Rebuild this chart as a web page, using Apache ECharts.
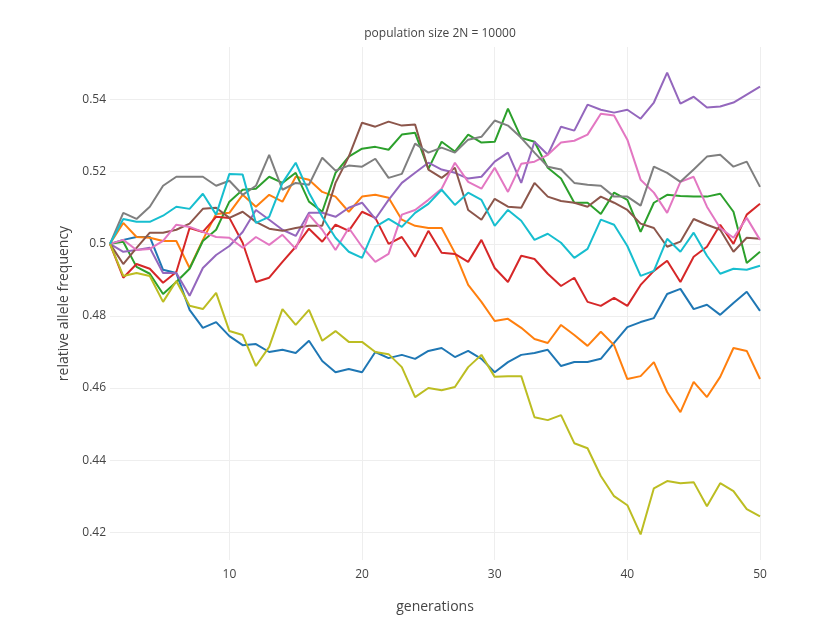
<!DOCTYPE html>
<html>
<head>
<meta charset="utf-8">
<script src="https://cdn.jsdelivr.net/npm/echarts@6/dist/echarts.min.js"></script>
<style>
html,body{margin:0;padding:0;background:#fff;}
#chart{width:840px;height:630px;}
</style>
</head>
<body>
<div id="chart"></div>
<script>
var generations = [1,2,3,4,5,6,7,8,9,10,11,12,13,14,15,16,17,18,19,20,21,22,23,24,25,26,27,28,29,30,31,32,33,34,35,36,37,38,39,40,41,42,43,44,45,46,47,48,49,50];

var run0 = [0.5000,0.5011,0.5019,0.5019,0.4928,0.4919,0.4817,0.4767,0.4783,0.4744,0.4719,0.4722,0.4700,0.4706,0.4697,0.4731,0.4675,0.4644,0.4653,0.4644,0.4700,0.4683,0.4692,0.4681,0.4703,0.4711,0.4686,0.4703,0.4681,0.4644,0.4672,0.4692,0.4697,0.4706,0.4661,0.4672,0.4672,0.4681,0.4725,0.4769,0.4783,0.4794,0.4861,0.4875,0.4819,0.4831,0.4803,0.4836,0.4867,0.4814];
var run1 = [0.5000,0.5058,0.5019,0.5017,0.5008,0.5008,0.4933,0.5011,0.5083,0.5086,0.5136,0.5103,0.5136,0.5117,0.5186,0.5178,0.5144,0.5131,0.5089,0.5131,0.5136,0.5128,0.5067,0.5050,0.5044,0.5044,0.4975,0.4886,0.4839,0.4786,0.4792,0.4767,0.4736,0.4725,0.4775,0.4747,0.4717,0.4756,0.4719,0.4625,0.4633,0.4672,0.4589,0.4533,0.4617,0.4575,0.4631,0.4711,0.4703,0.4625];
var run2 = [0.5000,0.5006,0.4936,0.4917,0.4861,0.4894,0.4931,0.5008,0.5039,0.5117,0.5150,0.5153,0.5186,0.5169,0.5197,0.5117,0.5089,0.5197,0.5242,0.5264,0.5269,0.5261,0.5303,0.5308,0.5208,0.5283,0.5256,0.5303,0.5281,0.5283,0.5375,0.5294,0.5283,0.5211,0.5181,0.5114,0.5114,0.5083,0.5142,0.5122,0.5033,0.5114,0.5136,0.5133,0.5131,0.5131,0.5139,0.5089,0.4947,0.4978];
var run3 = [0.5000,0.4906,0.4944,0.4931,0.4892,0.4922,0.5044,0.5033,0.5075,0.5072,0.5003,0.4894,0.4906,0.4950,0.4992,0.5042,0.5006,0.5053,0.5036,0.5089,0.5072,0.5000,0.5019,0.4964,0.5036,0.4975,0.4972,0.4950,0.5011,0.4933,0.4894,0.4967,0.4958,0.4917,0.4883,0.4906,0.4839,0.4828,0.4850,0.4828,0.4886,0.4925,0.4953,0.4894,0.4964,0.4992,0.5053,0.5000,0.5081,0.5111];
var run4 = [0.5000,0.4978,0.4983,0.4989,0.4919,0.4919,0.4856,0.4933,0.4969,0.4994,0.5033,0.5094,0.5067,0.5039,0.5022,0.5086,0.5086,0.5075,0.5100,0.5114,0.5069,0.5122,0.5169,0.5197,0.5225,0.5206,0.5197,0.5181,0.5186,0.5228,0.5253,0.5169,0.5283,0.5247,0.5325,0.5314,0.5386,0.5372,0.5364,0.5372,0.5347,0.5392,0.5475,0.5389,0.5408,0.5378,0.5381,0.5392,0.5414,0.5436];
var run5 = [0.5000,0.4944,0.4989,0.5031,0.5031,0.5039,0.5056,0.5097,0.5100,0.5072,0.5089,0.5061,0.5042,0.5036,0.5044,0.5050,0.5050,0.5169,0.5242,0.5336,0.5325,0.5339,0.5328,0.5331,0.5206,0.5183,0.5211,0.5094,0.5067,0.5125,0.5103,0.5100,0.5169,0.5131,0.5119,0.5114,0.5103,0.5131,0.5114,0.5094,0.5056,0.5044,0.4992,0.5006,0.5069,0.5053,0.5039,0.4978,0.5017,0.5014];
var run6 = [0.5000,0.5011,0.4983,0.4986,0.5008,0.5053,0.5047,0.5033,0.5019,0.5017,0.4989,0.5019,0.4997,0.5025,0.4986,0.5081,0.5039,0.4983,0.5044,0.4992,0.4950,0.4972,0.5081,0.5094,0.5122,0.5153,0.5225,0.5172,0.5153,0.5211,0.5144,0.5222,0.5228,0.5247,0.5281,0.5286,0.5303,0.5361,0.5356,0.5289,0.5178,0.5142,0.5086,0.5172,0.5186,0.5103,0.5044,0.5017,0.5072,0.5011];
var run7 = [0.5000,0.5086,0.5069,0.5103,0.5161,0.5186,0.5186,0.5186,0.5161,0.5175,0.5136,0.5161,0.5247,0.5150,0.5169,0.5164,0.5239,0.5203,0.5217,0.5214,0.5236,0.5183,0.5194,0.5278,0.5253,0.5267,0.5253,0.5289,0.5297,0.5342,0.5328,0.5294,0.5253,0.5214,0.5206,0.5169,0.5164,0.5161,0.5131,0.5131,0.5106,0.5214,0.5197,0.5172,0.5206,0.5242,0.5247,0.5214,0.5228,0.5158];
var run8 = [0.5000,0.4911,0.4919,0.4911,0.4839,0.4897,0.4828,0.4819,0.4864,0.4758,0.4747,0.4661,0.4714,0.4819,0.4775,0.4817,0.4731,0.4758,0.4728,0.4728,0.4700,0.4694,0.4658,0.4575,0.4600,0.4594,0.4603,0.4658,0.4692,0.4631,0.4633,0.4633,0.4519,0.4511,0.4525,0.4447,0.4433,0.4356,0.4300,0.4275,0.4194,0.4322,0.4342,0.4336,0.4339,0.4272,0.4336,0.4314,0.4264,0.4244];
var run9 = [0.5000,0.5069,0.5061,0.5061,0.5078,0.5103,0.5097,0.5139,0.5081,0.5194,0.5192,0.5058,0.5075,0.5169,0.5225,0.5142,0.5075,0.5017,0.4978,0.4961,0.5047,0.5069,0.5047,0.5086,0.5111,0.5150,0.5108,0.5142,0.5122,0.5050,0.5094,0.5064,0.5011,0.5028,0.5003,0.4961,0.4986,0.5067,0.5053,0.4994,0.4911,0.4925,0.5014,0.4978,0.5031,0.4967,0.4917,0.4931,0.4928,0.4939];

var runs = [run0, run1, run2, run3, run4, run5, run6, run7, run8, run9];
var colors = ['#1f77b4','#ff7f0e','#2ca02c','#d62728','#9467bd','#8c564b','#e377c2','#7f7f7f','#bcbd22','#17becf'];

var chart = echarts.init(document.getElementById('chart'), null, {renderer: 'canvas'});
var font = '"Open Sans", "DejaVu Sans", sans-serif';

var series = runs.map(function (r, i) {
  return {
    name: 'trace ' + i,
    type: 'line',
    data: generations.map(function (g, j) { return [g, r[j]]; }),
    showSymbol: false,
    symbol: 'none',
    lineStyle: {width: 2, color: colors[i]},
    itemStyle: {color: colors[i]},
    animation: false,
    z: 2 + i
  };
});

chart.setOption({
  backgroundColor: '#fff',
  animation: false,
  title: {
    text: 'population size 2N = 10000',
    left: 435,
    top: 23,
    textAlign: 'center',
    textStyle: {fontFamily: font, fontSize: 12, fontWeight: 'normal', color: '#444'}
  },
  grid: {left: 110, right: 80, top: 47, bottom: 70, containLabel: false},
  xAxis: {
    type: 'value',
    min: 1,
    max: 50,
    splitNumber: 5,
    name: 'generations',
    nameLocation: 'middle',
    nameGap: 40,
    nameTextStyle: {fontFamily: font, fontSize: 14, color: '#444'},
    axisLine: {show: false},
    axisTick: {show: false},
    axisLabel: {fontFamily: font, fontSize: 12, color: '#444', margin: 9, showMinLabel: false},
    splitLine: {show: true, showMinLine: false, lineStyle: {color: '#eeeeee', width: 1}}
  },
  yAxis: {
    type: 'value',
    min: 0.4123,
    max: 0.5546,
    splitNumber: 6,
    name: 'relative allele frequency',
    nameLocation: 'middle',
    nameGap: 36,
    nameRotate: 90,
    nameTextStyle: {fontFamily: font, fontSize: 14, color: '#444'},
    axisLine: {show: false},
    axisTick: {show: false},
    axisLabel: {fontFamily: font, fontSize: 12, color: '#444', margin: 4, showMinLabel: false, showMaxLabel: false},
    splitLine: {show: true, showMinLine: false, showMaxLine: false, lineStyle: {color: '#eeeeee', width: 1}}
  },
  series: series
});
</script>
</body>
</html>
